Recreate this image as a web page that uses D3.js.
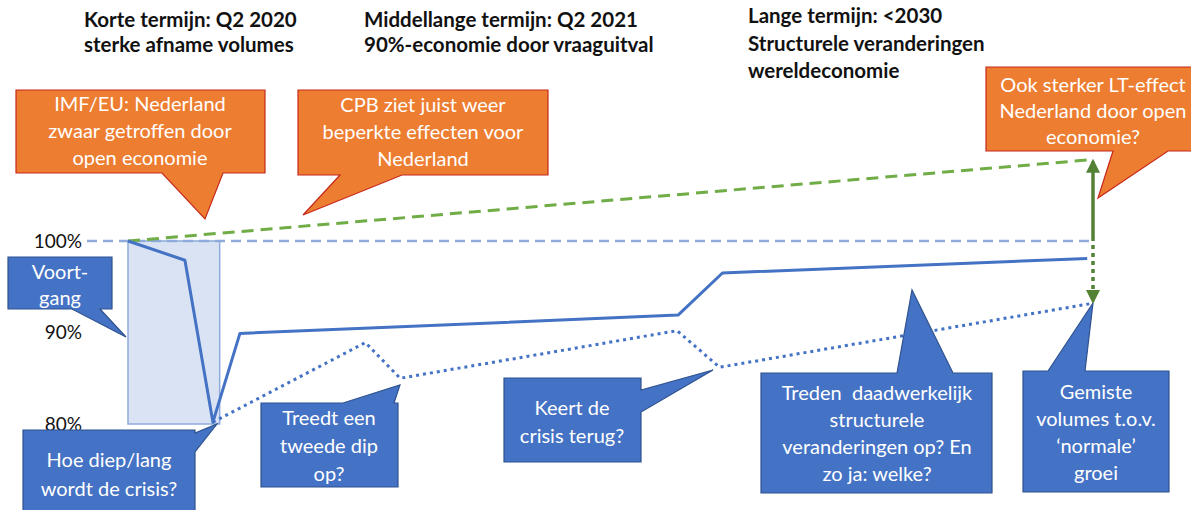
<!DOCTYPE html>
<html>
<head>
<meta charset="utf-8">
<title>Scenario volumes</title>
<script src="https://d3js.org/d3.v7.min.js"></script>
<style>
  body { margin: 0; background: #fff; }
  svg { display: block; font-family: Lato, "Open Sans", sans-serif; }
  .head { font-weight: bold; font-size: 20.5px; fill: #111; }
  .tick text { font-size: 19px; fill: #111; font-family: Lato, sans-serif; }
  .callout text { fill: #fff; font-size: 20px; }
</style>
</head>
<body>
<svg width="1191" height="510"></svg>
<script>
// years (2020 = start of crisis) and volume index (%)
var baseYears = [2020, 2030];
var baseVals = [100, 100];

var mainYears = [2020, 2020.59, 2020.88, 2021.16, 2025.70, 2026.16, 2029.94];
var mainVals  = [100, 97.9, 80.2, 89.9, 91.9, 96.5, 98.1];

var dipYears = [2020.88, 2022.46, 2022.82, 2025.69, 2026.13, 2030];
var dipVals  = [80.2, 88.9, 85.0, 90.2, 86.2, 93.2];

var greenYears = [2020, 2030];
var greenVals  = [100, 108.9];

var crisisYears = [2020, 2020.95];
var crisisVals = [80, 100];

var yTicks = [80, 90, 100];

var headers = [
  ["Korte termijn: Q2 2020", "sterke afname volumes"],
  ["Middellange termijn: Q2 2021", "90%-economie door vraaguitval"],
  ["Lange termijn: <2030", "Structurele veranderingen", "wereldeconomie"]
];

var calloutTexts = [
  ["IMF/EU: Nederland", "zwaar getroffen door", "open economie"],
  ["CPB ziet juist weer", "beperkte effecten voor", "Nederland"],
  ["Ook sterker LT-effect", "Nederland door open", "economie?"],
  ["Voort-", "gang"],
  ["Hoe diep/lang", "wordt de crisis?"],
  ["Treedt een", "tweede dip", "op?"],
  ["Keert de", "crisis terug?"],
  ["Treden  daadwerkelijk", "structurele", "veranderingen op? En", "zo ja: welke?"],
  ["Gemiste", "volumes t.o.v.", "\u2018normale\u2019", "groei"]
];

var svg = d3.select("svg");

var x = d3.scaleLinear().domain([2020, 2030]).range([128, 1093]);
var y = d3.scaleLinear().domain([80, 100]).range([424, 241]);

// header texts
var headPos = [[84, 27], [364, 27], [748, 23]];
headers.forEach(function(lines, i) {
  var t = svg.append("text").attr("class", "head")
    .attr("x", headPos[i][0]).attr("y", headPos[i][1]);
  lines.forEach(function(l, j) {
    t.append("tspan").attr("x", headPos[i][0]).attr("dy", j == 0 ? 0 : (i == 2 ? 27.5 : 25)).text(l);
  });
});

// y axis
svg.append("g")
  .attr("transform", "translate(84,0)")
  .call(d3.axisLeft(y).tickValues(yTicks).tickSize(0).tickPadding(2).tickFormat(function(d) { return d + "%"; }))
  .call(function(g) { g.select(".domain").remove(); });

// crisis rectangle
svg.append("rect")
  .attr("x", x(crisisYears[0])).attr("y", y(crisisVals[1]))
  .attr("width", x(crisisYears[1]) - x(crisisYears[0]))
  .attr("height", y(crisisVals[0]) - y(crisisVals[1]))
  .attr("fill", "#dae3f3").attr("stroke", "#8faadc").attr("stroke-width", 1.5);

var line = d3.line().x(function(d) { return x(d[0]); }).y(function(d) { return y(d[1]); });

// 100% reference line, starts at axis label
svg.append("line")
  .attr("x1", 87).attr("x2", x(baseYears[1]) - 3)
  .attr("y1", y(baseVals[0])).attr("y2", y(baseVals[1]))
  .attr("stroke", "#8faadc").attr("stroke-width", 2.5).attr("stroke-dasharray", "10,6");

svg.append("path")
  .datum(d3.zip(greenYears, greenVals))
  .attr("d", line).attr("fill", "none")
  .attr("stroke", "#70ad47").attr("stroke-width", 3).attr("stroke-dasharray", "12,7");

svg.append("path")
  .datum(d3.zip(mainYears, mainVals))
  .attr("d", line).attr("fill", "none")
  .attr("stroke", "#4472c4").attr("stroke-width", 3).attr("stroke-linejoin", "round");

svg.append("path")
  .datum(d3.zip(dipYears, dipVals))
  .attr("d", line).attr("fill", "none")
  .attr("stroke", "#4472c4").attr("stroke-width", 3).attr("stroke-dasharray", "3,4");

// green arrows at 2030
var defs = svg.append("defs");
defs.append("marker").attr("id", "ah").attr("viewBox", "0 0 10 10")
  .attr("refX", 8).attr("refY", 5).attr("markerWidth", 4).attr("markerHeight", 4)
  .attr("orient", "auto")
  .append("path").attr("d", "M0,0L10,5L0,10Z").attr("fill", "#548235");

svg.append("line")
  .attr("x1", x(2030)).attr("x2", x(2030))
  .attr("y1", y(100)).attr("y2", y(greenVals[1]) + 2)
  .attr("stroke", "#548235").attr("stroke-width", 3.5).attr("marker-end", "url(#ah)");

svg.append("line")
  .attr("x1", x(2030)).attr("x2", x(2030))
  .attr("y1", y(100) + 4).attr("y2", y(dipVals[dipVals.length - 1]) - 2)
  .attr("stroke", "#548235").attr("stroke-width", 3.5).attr("stroke-dasharray", "4,4").attr("marker-end", "url(#ah)");

// callouts: box [x0,y0,x1,y1], tail edge, base [a,b], tip [x,y], centre x, first baseline, line step
var callouts = [
  { box: [16, 90, 265, 173], edge: "bottom", base: [162, 223], tip: [205, 219], cx: 140, y: 111, dy: 27, fill: "#ed7d31", stroke: "#c5281c" },
  { box: [298, 90, 548, 175], edge: "bottom", base: [340, 402], tip: [303, 215], cx: 423, y: 112, dy: 27, fill: "#ed7d31", stroke: "#c5281c" },
  { box: [986, 67, 1200, 151], edge: "bottom", base: [1113, 1168], tip: [1098, 198], cx: 1093, y: 92, dy: 26, fill: "#ed7d31", stroke: "#c5281c" },
  { box: [8, 257, 112, 309], edge: "bottom", base: [72, 100], tip: [126, 337], cx: 60, y: 279, dy: 26, fill: "#4472c4", stroke: "#2f528f" },
  { box: [23, 430, 195, 515], edge: "right", base: [433, 452], tip: [217, 424], cx: 109, y: 467, dy: 29, fill: "#4472c4", stroke: "#2f528f" },
  { box: [261, 403, 398, 487], edge: "top", base: [343, 394], tip: [400, 385], cx: 329, y: 425, dy: 28, fill: "#4472c4", stroke: "#2f528f" },
  { box: [504, 378, 641, 462], edge: "right", base: [390, 412], tip: [713, 370], cx: 572, y: 415, dy: 28, fill: "#4472c4", stroke: "#2f528f" },
  { box: [761, 373, 992, 493], edge: "top", base: [897, 953], tip: [912, 290], cx: 877, y: 400, dy: 27, fill: "#4472c4", stroke: "#2f528f" },
  { box: [1023, 371, 1169, 492], edge: "top", base: [1048, 1085], tip: [1093, 303], cx: 1096, y: 399, dy: 27, fill: "#4472c4", stroke: "#2f528f" }
];

function calloutPath(c) {
  var x0 = c.box[0], y0 = c.box[1], x1 = c.box[2], y1 = c.box[3];
  var a = c.base[0], b = c.base[1], t = c.tip;
  var pts = [[x0, y0]];
  if (c.edge == "top") pts.push([a, y0], t, [b, y0]);
  pts.push([x1, y0]);
  if (c.edge == "right") pts.push([x1, a], t, [x1, b]);
  pts.push([x1, y1]);
  if (c.edge == "bottom") pts.push([b, y1], t, [a, y1]);
  pts.push([x0, y1]);
  if (c.edge == "left") pts.push([x0, b], t, [x0, a]);
  return "M" + pts.map(function(p) { return p.join(","); }).join("L") + "Z";
}

callouts.forEach(function(c, i) {
  var g = svg.append("g").attr("class", "callout");
  g.append("path").attr("d", calloutPath(c))
    .attr("fill", c.fill).attr("stroke", c.stroke).attr("stroke-width", 1.2);
  var t = g.append("text").attr("text-anchor", "middle");
  calloutTexts[i].forEach(function(l, j) {
    t.append("tspan").attr("x", c.cx).attr("y", c.y + j * c.dy).attr("xml:space", "preserve").text(l);
  });
});
</script>
</body>
</html>
